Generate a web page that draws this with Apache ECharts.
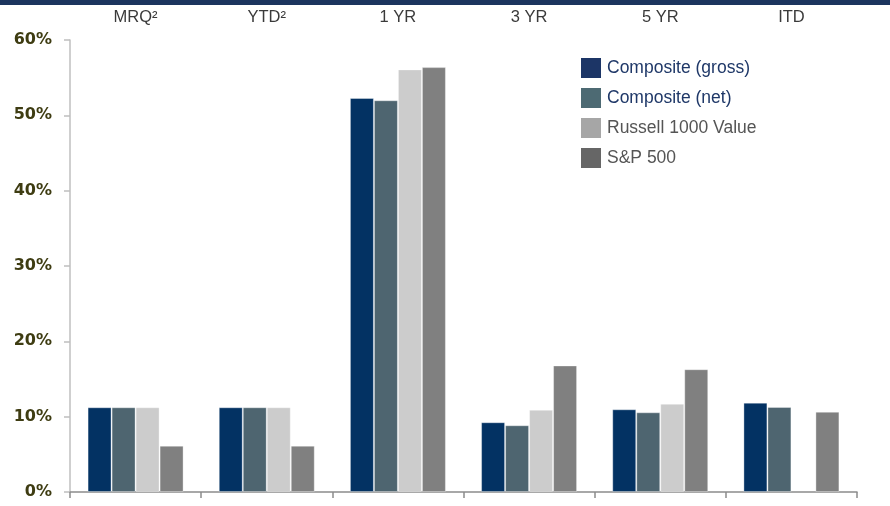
<!DOCTYPE html>
<html>
<head>
<meta charset="utf-8">
<script src="https://cdn.jsdelivr.net/npm/echarts@6/dist/echarts.min.js"></script>
<style>
html,body{margin:0;padding:0;background:#fff;}
#c{width:890px;height:506px;}
</style>
</head>
<body>
<div id="c"></div>
<script>
var categories = ['MRQ\u00B2', 'YTD\u00B2', '1 YR', '3 YR', '5 YR', 'ITD'];
var compositeGross = [11.25, 11.25, 52.3, 9.26, 10.98, 11.86];
var compositeNet = [11.25, 11.25, 52.0, 8.86, 10.58, 11.29];
var russell1000Value = [11.25, 11.25, 56.1, 10.93, 11.73, null];
var sp500 = [6.15, 6.15, 56.4, 16.8, 16.3, 10.66];
var yTicks = [0, 10, 20, 30, 40, 50, 60];

var chart = echarts.init(document.getElementById('c'), null, {renderer: 'canvas'});

var barBorder = {borderColor: 'rgba(255,255,255,0.35)', borderWidth: 1};

function mkSeries(name, data, color) {
  return {
    name: name,
    type: 'bar',
    xAxisIndex: 0,
    data: data,
    barWidth: 24,
    barGap: '0%',
    itemStyle: Object.assign({color: color}, barBorder),
    emphasis: {disabled: true}
  };
}

chart.setOption({
  animation: false,
  graphic: [{
    type: 'rect',
    left: 0, top: 0,
    shape: {x: 0, y: 0, width: 890, height: 5},
    style: {fill: '#1c355e'}
  }],
  grid: {left: 70, right: 33, top: 40, bottom: 14, containLabel: false},
  legend: {
    orient: 'vertical',
    left: 581,
    top: 58,
    padding: 0,
    itemWidth: 20,
    itemHeight: 20,
    itemGap: 10,
    icon: 'rect',
    selectedMode: false,
    textStyle: {fontFamily: 'Liberation Sans, Arial, sans-serif', fontSize: 17.5, padding: [0, 0, 0, 1]},
    data: [
      {name: 'Composite (gross)', itemStyle: {color: '#1c3566', borderWidth: 0}, textStyle: {color: '#1f3868'}},
      {name: 'Composite (net)', itemStyle: {color: '#4d6a73', borderWidth: 0}, textStyle: {color: '#1f3868'}},
      {name: 'Russell 1000 Value', itemStyle: {color: '#a6a6a6', borderWidth: 0}, textStyle: {color: '#555555'}},
      {name: 'S&P 500', itemStyle: {color: '#666666', borderWidth: 0}, textStyle: {color: '#555555'}}
    ]
  },
  xAxis: [{
    type: 'category',
    data: categories,
    position: 'bottom',
    axisLine: {show: true, lineStyle: {color: '#8c8c8c', width: 1.5}},
    axisTick: {show: true, length: 6, alignWithLabel: false, lineStyle: {color: '#8c8c8c', width: 1.5}},
    axisLabel: {show: false},
    splitLine: {show: false}
  }, {
    type: 'category',
    data: categories,
    position: 'top',
    axisLine: {show: false},
    axisTick: {show: false},
    axisLabel: {
      show: true,
      margin: 14,
      color: '#3a3a3a',
      fontSize: 16.5,
      fontFamily: 'Liberation Sans, Arial, sans-serif'
    },
    splitLine: {show: false}
  }],
  yAxis: {
    type: 'value',
    min: yTicks[0],
    max: yTicks[yTicks.length - 1],
    interval: 10,
    axisLine: {show: true, lineStyle: {color: '#bfbfbf', width: 1.5}},
    axisTick: {show: true, length: 6, lineStyle: {color: '#bfbfbf', width: 1.5}},
    splitLine: {show: false},
    axisLabel: {
      margin: 18,
      formatter: '{value}%',
      color: '#3e3c12',
      fontSize: 16,
      fontWeight: 'bold',
      fontFamily: 'DejaVu Sans, sans-serif'
    }
  },
  series: [
    mkSeries('Composite (gross)', compositeGross, '#033263'),
    mkSeries('Composite (net)', compositeNet, '#4e6570'),
    mkSeries('Russell 1000 Value', russell1000Value, '#cccccc'),
    mkSeries('S&P 500', sp500, '#808080')
  ]
});
</script>
</body>
</html>
